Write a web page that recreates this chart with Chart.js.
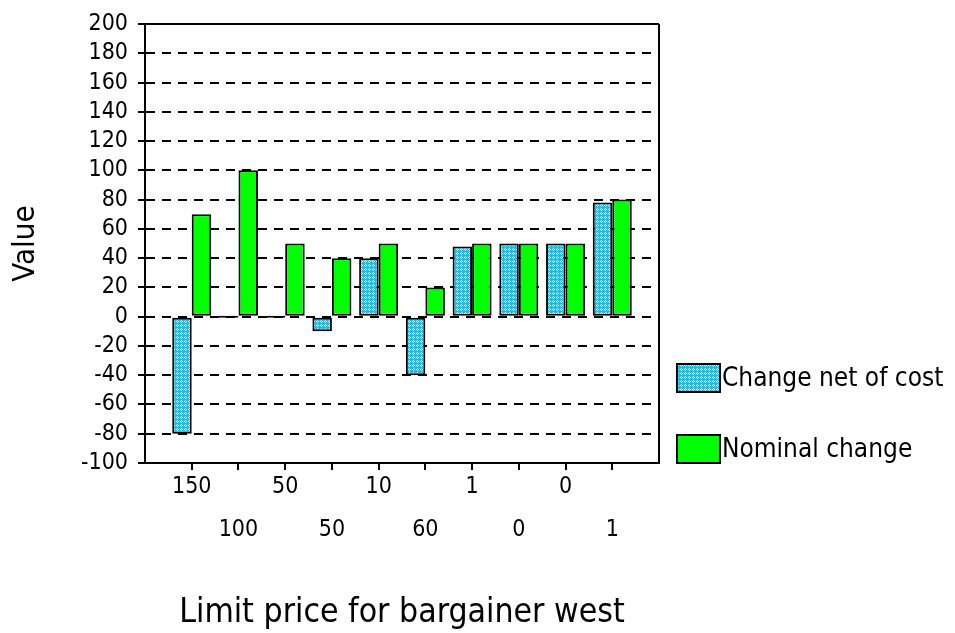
<!DOCTYPE html>
<html>
<head>
<meta charset="utf-8">
<script src="https://cdn.jsdelivr.net/npm/chart.js@4.4.1/dist/chart.umd.min.js"></script>
<style>
  html, body { margin: 0; padding: 0; background: #fff; }
</style>
</head>
<body>
<canvas id="chart" width="955" height="633"></canvas>
<script>
// data
const categories = ["150", "100", "50", "50", "10", "60", "1", "0", "0", "1"];
const netOfCost = [-80, 0, 0, -10, 40, -40, 48, 50, 50, 78];
const nominal = [70, 100, 50, 40, 50, 20, 50, 50, 50, 80];
const yTicks = [-100, -80, -60, -40, -20, 0, 20, 40, 60, 80, 100, 120, 140, 160, 180, 200];
const seriesNames = ["Change net of cost", "Nominal change"];

const FONT = "'DejaVu Sans Condensed', 'DejaVu Sans', sans-serif";
Chart.defaults.font.family = FONT;
Chart.defaults.color = "#000";

// cyan hatch used by the "net of cost" bars
function makeHatch() {
  const c = document.createElement("canvas");
  c.width = 4;
  c.height = 4;
  const g = c.getContext("2d");
  g.fillStyle = "#12c2ee";
  g.fillRect(0, 0, 4, 4);
  g.fillStyle = "#e8fbff";
  [[1, 0], [0, 1], [2, 1], [1, 2]].forEach(([x, y]) => g.fillRect(x, y, 1, 1));
  return g.createPattern(c, "repeat");
}
const hatch = makeHatch();

// one empty slot on each side of the categories
const labels = ["", ...categories, ""];
const pad = (arr) => [null, ...arr, null];
const lastIndex = labels.length - 1;

// legend drawn beside the plot, from the dataset styles
const sideLegend = {
  id: "sideLegend",
  afterDraw(chart) {
    const ctx = chart.ctx;
    const rows = [378, 449];
    chart.data.datasets.forEach((ds, i) => {
      const y = rows[i];
      ctx.save();
      ctx.fillStyle = ds.backgroundColor;
      ctx.fillRect(677, y - 14, 43, 28);
      ctx.lineWidth = 2;
      ctx.strokeStyle = "#000";
      ctx.strokeRect(677, y - 14, 43, 28);
      ctx.fillStyle = "#000";
      ctx.font = "26px " + FONT;
      ctx.textBaseline = "middle";
      ctx.textAlign = "left";
      ctx.fillText(ds.label, 722, y + 1);
      ctx.restore();
    });
  }
};

new Chart(document.getElementById("chart"), {
  type: "bar",
  data: {
    labels: labels,
    datasets: [
      {
        label: seriesNames[0],
        data: pad(netOfCost),
        backgroundColor: hatch,
        borderColor: "#000",
        borderWidth: 2,
        borderSkipped: false,
        minBarLength: 2
      },
      {
        label: seriesNames[1],
        data: pad(nominal),
        backgroundColor: "#00ff00",
        borderColor: "#000",
        borderWidth: 2,
        borderSkipped: false
      }
    ]
  },
  options: {
    responsive: false,
    animation: false,
    devicePixelRatio: 1,
    layout: { padding: { top: 24, right: 296, left: 0, bottom: 0 } },
    datasets: {
      bar: { categoryPercentage: 0.835, barPercentage: 1 }
    },
    plugins: {
      legend: { display: false },
      tooltip: { enabled: false }
    },
    scales: {
      x: {
        type: "category",
        offset: false,
        grid: {
          offset: false,
          drawOnChartArea: true,
          lineWidth: 2,
          color: (c) => (c.index === lastIndex ? "#000" : "rgba(0,0,0,0)"),
          tickColor: (c) => (c.index === 0 || c.index === lastIndex ? "rgba(0,0,0,0)" : "#000"),
          tickLength: 7,
          tickWidth: 2
        },
        border: { color: "#000", width: 2 },
        ticks: {
          autoSkip: false,
          maxRotation: 0,
          padding: -4,
          font: { size: 23, lineHeight: "43px" },
          callback: function (value, index) {
            if (index === 0 || index === lastIndex) return ["", ""];
            const k = index - 1;
            return k % 2 === 0 ? [categories[k], ""] : ["", categories[k]];
          }
        },
        title: {
          display: true,
          text: "Limit price for bargainer west",
          font: { size: 33.5 },
          padding: { top: 0, bottom: 0 }
        },
        afterFit: (scale) => { scale.height = 170; }
      },
      y: {
        min: yTicks[0],
        max: yTicks[yTicks.length - 1],
        afterBuildTicks: (scale) => { scale.ticks = yTicks.map((v) => ({ value: v })); },
        grid: {
          color: "#000",
          lineWidth: 2,
          tickLength: 7,
          tickWidth: 2,
          tickColor: "#000"
        },
        border: {
          color: "#000",
          width: 2,
          dash: (c) => (c.tick && c.tick.value === yTicks[yTicks.length - 1] ? [] : [9, 7])
        },
        ticks: {
          autoSkip: false,
          padding: 10,
          font: { size: 23 }
        },
        title: {
          display: true,
          text: "Value",
          font: { size: 31 },
          padding: { top: 7, bottom: 0 }
        },
        afterFit: (scale) => { scale.width = 145; }
      }
    }
  },
  plugins: [sideLegend]
});
</script>
</body>
</html>
